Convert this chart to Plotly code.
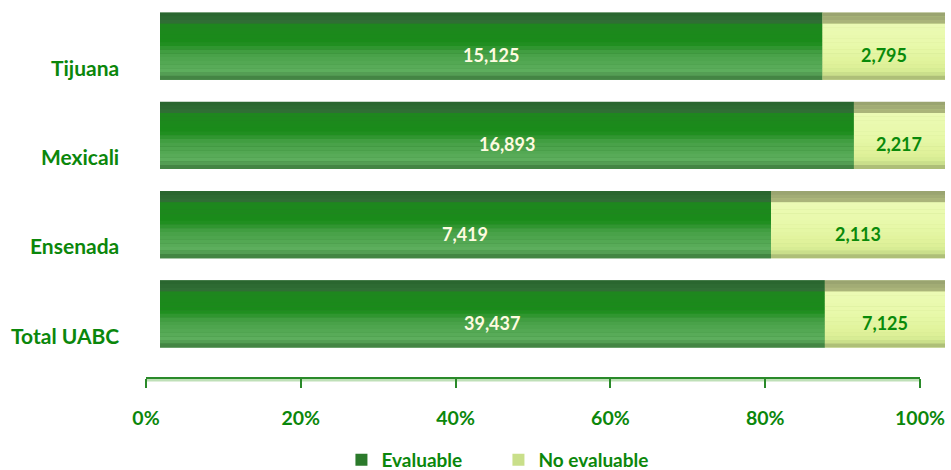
import plotly.graph_objects as go

categories = ["Total UABC", "Ensenada", "Mexicali", "Tijuana"]
evaluable = [39437, 7419, 16893, 15125]
no_evaluable = [7125, 2113, 2217, 2795]
tick_vals = [0, 20, 40, 60, 80, 100]
tick_text = ["0%", "20%", "40%", "60%", "80%", "100%"]

totals = [e + n for e, n in zip(evaluable, no_evaluable)]
ev_pct = [e / t * 100 for e, t in zip(evaluable, totals)]
ne_pct = [n / t * 100 for n, t in zip(no_evaluable, totals)]

FONT = "Lato"
GREEN_TXT = "#0b870b"
W = 0.75
NB = 18  # gradient bands

# colour stops from the top of the bar (0) to the bottom (1)
ev_stops = [(0.0, (40, 100, 45)), (0.17, (50, 112, 55)), (0.19, (30, 135, 30)),
            (0.45, (25, 140, 25)), (0.6, (70, 160, 70)), (0.88, (95, 175, 95)), (1.0, (60, 120, 60))]
ne_stops = [(0.0, (150, 160, 110)), (0.17, (175, 185, 125)), (0.19, (235, 250, 180)),
            (0.5, (232, 249, 170)), (0.8, (222, 241, 152)), (0.9, (210, 232, 145)), (1.0, (160, 175, 110))]


def interp(stops, f):
    for (f0, c0), (f1, c1) in zip(stops[:-1], stops[1:]):
        if f0 <= f <= f1:
            t = 0 if f1 == f0 else (f - f0) / (f1 - f0)
            return "rgb(%d,%d,%d)" % tuple(round(a + (b - a) * t) for a, b in zip(c0, c1))
    return "rgb(%d,%d,%d)" % stops[-1][1]


fig = go.Figure()

series = [
    ("Evaluable", ev_pct, [0] * 4, ev_stops, "#2b7a2b"),
    ("No evaluable", ne_pct, ev_pct, ne_stops, "#c9df8a"),
]

bw = W / NB
for name, vals, base, stops, legcol in series:
    # legend carrier (full bar)
    fig.add_trace(go.Bar(y=categories, x=vals, base=base, orientation="h",
                         width=W, offset=-W / 2, marker=dict(color=legcol, line=dict(width=0)),
                         name=name, showlegend=True, hoverinfo="skip"))
    for i in range(NB):
        f = (i + 0.5) / NB
        fig.add_trace(go.Bar(y=categories, x=vals, base=base, orientation="h",
                             width=bw * 1.05, offset=W / 2 - (i + 1) * bw,
                             marker=dict(color=interp(stops, f), line=dict(width=0)),
                             showlegend=False, hoverinfo="skip"))

# dummy trace for percent axis
fig.add_trace(go.Scatter(x=[0, 100], y=[categories[0], categories[0]], xaxis="x2", yaxis="y",
                         mode="markers", marker=dict(opacity=0), showlegend=False, hoverinfo="skip"))

annotations = []
for c, ep, np_, e, n in zip(categories, ev_pct, ne_pct, evaluable, no_evaluable):
    annotations.append(dict(x=ep / 2, y=c, xref="x", yref="y", text=f"<b>{e:,}</b>",
                            showarrow=False, yshift=-9, font=dict(family=FONT, size=18, color="#fffbe0")))
    annotations.append(dict(x=ep + np_ / 2, y=c, xref="x", yref="y", text=f"<b>{n:,}</b>",
                            showarrow=False, yshift=-9, font=dict(family=FONT, size=18, color="#0a8a0a")))
    annotations.append(dict(x=-0.0315, y=c, xref="paper", yref="y", text=f"<b>{c}</b>",
                            showarrow=False, xanchor="right", yshift=-21,
                            font=dict(family=FONT, size=21, color=GREEN_TXT)))

FW, FH = 951, 470
L, R, T, B = 146, 4, 2, 93
PW = FW - L - R
PH = FH - T - B
fig.update_layout(
    width=FW, height=FH,
    margin=dict(l=L, r=R, t=T, b=B, autoexpand=False),
    plot_bgcolor="rgba(0,0,0,0)", paper_bgcolor="white",
    barmode="overlay",
    showlegend=True,
    legend=dict(orientation="h", x=0.44, xanchor="center", y=0.0213, yref="container",
                yanchor="middle",
                font=dict(family=FONT, size=19, color=GREEN_TXT, weight="bold"),
                entrywidth=112, itemwidth=30),
    xaxis=dict(domain=[(160 - L) / PW, (945 - L) / PW], range=[0, 100], showgrid=False,
               showticklabels=False, ticks="", zeroline=False, showline=False, automargin=False),
    xaxis2=dict(domain=[0, (920 - L) / PW], range=[0, 100], anchor="y", showgrid=False,
                zeroline=False, showline=True, linecolor="#2a8a2a", linewidth=2,
                ticks="outside", ticklen=9, tickwidth=2, tickcolor="#2a8a2a",
                tickvals=tick_vals, ticktext=tick_text, ticklabelstandoff=14, automargin=False,
                tickfont=dict(family=FONT, size=19.5, color=GREEN_TXT, weight="bold")),
    yaxis=dict(type="category", categoryarray=categories, range=[-0.705, -0.705 + PH / 89.3],
               showticklabels=False, showgrid=False, zeroline=False, ticks="", automargin=False),
    shapes=[dict(type="line", xref="x2 domain", yref="paper", x0=0, x1=1, y0=-3 / PH, y1=-3 / PH,
                 line=dict(color="#bfe0b8", width=3), layer="below")],
    annotations=annotations,
)

fig.write_html("out.html", config={"displayModeBar": False},
               post_script="document.body.style.margin='0';document.body.style.overflow='hidden';")
